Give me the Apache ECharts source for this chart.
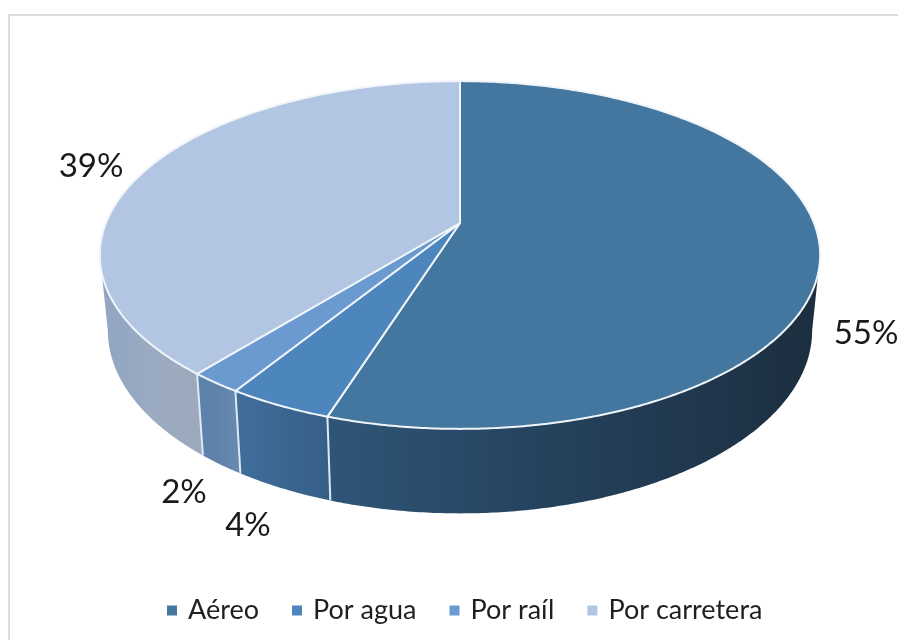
<!DOCTYPE html>
<html>
<head>
<meta charset="utf-8">
<style>html,body{margin:0;padding:0;background:#fff}#c{width:898px;height:640px}</style>
<script src="https://cdn.jsdelivr.net/npm/echarts@6/dist/echarts.min.js"></script>
</head>
<body>
<div id="c"></div>
<script>
const categories = ['Aéreo', 'Por agua', 'Por raíl', 'Por carretera'];
const shares = [55, 4, 2, 39];
const topColors = ['#43779f', '#4c86bd', '#6a9ad0', '#b2c6e3'];
const sideStops = [
  ['#2f5577', '#24405a', '#1c2e3f'],
  ['#406e9b', '#3b6690', '#365f88'],
  ['#5c81ac', '#6083ab', '#6a8bb0'],
  ['#90a5c3', '#9aabc2', '#9da9bb']
];
const labelPositions = [[866, 333], [248, 525], [184, 492], [91, 166]];

// Perspective layout of the disc
const CX = 460, APEX_Y = 223, K = -0.184, A = 168, B = 354;
const TOP_EY = 255, TOP_RX = 360, TOP_RY = 174;
const BOT_EY = 330.5, BOT_RX = 352, BOT_RY = 183;
const VISIBLE_FROM = 100.6, VISIBLE_TO = 259.4;

function topPoint(deg) {
  const r = deg * Math.PI / 180, u = Math.sin(r), v = -Math.cos(r), d = 1 + K * v;
  return [CX + B * u / d, APEX_Y + A * v / d];
}
function bottomPoint(deg) {
  const p = topPoint(deg);
  return [CX + (p[0] - CX) * BOT_RX / TOP_RX, BOT_EY + (p[1] - TOP_EY) * BOT_RY / TOP_RY];
}
function arc(fn, a, b) {
  const n = Math.max(2, Math.ceil(Math.abs(b - a) * 2)), pts = [];
  for (let i = 0; i <= n; i++) pts.push(fn(a + (b - a) * i / n));
  return pts;
}
const total = shares.reduce((s, v) => s + v, 0);

function renderSlice(params, api) {
  const idx = params.seriesIndex;
  let before = 0;
  for (let i = 0; i < idx; i++) before += shares[i];
  const value = api.value(0);
  const start = before / total * 360, end = (before + value) / total * 360;
  const children = [];
  const from = Math.max(start, VISIBLE_FROM), to = Math.min(end, VISIBLE_TO);
  if (to > from) {
    const t = arc(topPoint, from, to), b = arc(bottomPoint, from, to);
    const xs = t.concat(b).map(p => p[0]);
    const s = sideStops[idx];
    children.push({
      type: 'polygon', z2: 1,
      shape: { points: t.concat(b.slice().reverse()) },
      style: {
        fill: { type: 'linear', global: true, x: Math.min(...xs), y: 0, x2: Math.max(...xs), y2: 0,
          colorStops: [{ offset: 0, color: s[0] }, { offset: 0.5, color: s[1] }, { offset: 1, color: s[2] }] }
      }
    });
  }
  children.push({
    type: 'polygon', z2: 5,
    shape: { points: [[CX, APEX_Y]].concat(arc(topPoint, start, end)) },
    style: { fill: topColors[idx], stroke: '#f0f5fa', lineWidth: 2, lineJoin: 'round' }
  });
  if (start >= VISIBLE_FROM && start <= VISIBLE_TO) {
    const p = topPoint(start), q = bottomPoint(start);
    children.push({
      type: 'line', z2: 4,
      shape: { x1: p[0], y1: p[1], x2: q[0], y2: q[1] },
      style: { stroke: '#dfe9f4', lineWidth: 2 }
    });
  }
  const lp = labelPositions[idx];
  children.push({
    type: 'text', z2: 10,
    style: { text: Math.round(value / total * 100) + '%', x: lp[0], y: lp[1], fill: '#1a1a1a',
      font: '33px Lato', align: 'center', verticalAlign: 'middle' }
  });
  return { type: 'group', children };
}

const chart = echarts.init(document.getElementById('c'), null, { renderer: 'canvas' });
chart.setOption({
  animation: false,
  backgroundColor: '#ffffff',
  graphic: [{
    type: 'rect', silent: true, z: -1,
    shape: { x: 9, y: 15, width: 950, height: 700 },
    style: { fill: '#ffffff', stroke: '#dcdcdc', lineWidth: 2 }
  }],
  legend: {
    data: categories, left: 167, top: 597, icon: 'rect',
    itemWidth: 10, itemHeight: 10, itemGap: 33, padding: 0,
    textStyle: { fontFamily: 'Lato', fontSize: 27, color: '#1f1f1f', padding: [0, 0, 0, 6] },
    selectedMode: false
  },
  series: categories.map((name, i) => ({
    type: 'custom', name, coordinateSystem: 'none', silent: true,
    itemStyle: { color: topColors[i] },
    data: [[shares[i]]],
    renderItem: renderSlice
  }))
});
</script>
</body>
</html>
